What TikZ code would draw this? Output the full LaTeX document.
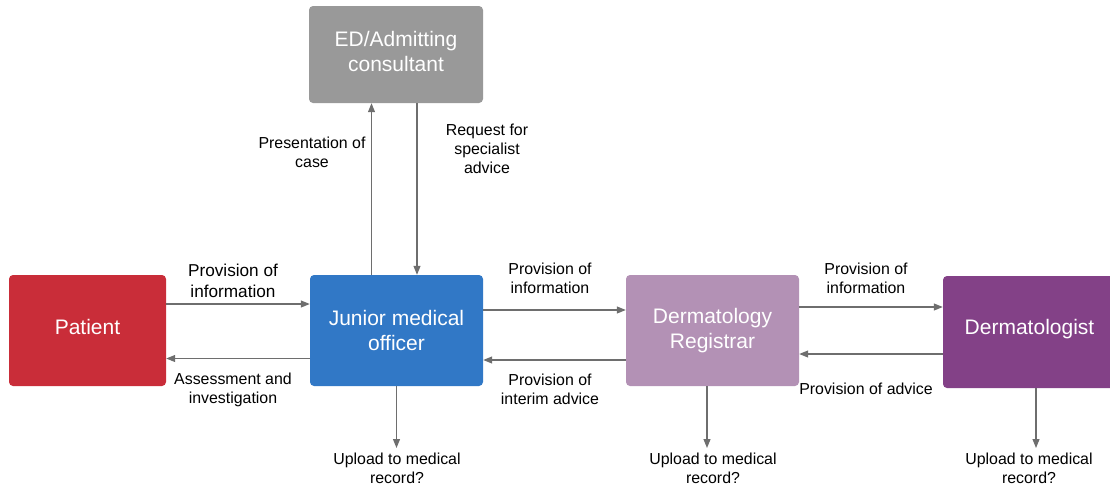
\documentclass[tikz,border=0pt]{standalone}
\usepackage{fontspec}
\setmainfont{Liberation Sans}
\usetikzlibrary{arrows.meta}
\definecolor{edgray}{HTML}{999999}
\definecolor{pred}{HTML}{C92D39}
\definecolor{jblue}{HTML}{3178C6}
\definecolor{rlilac}{HTML}{B391B5}
\definecolor{dpurple}{HTML}{834187}
\definecolor{arrgray}{HTML}{6E6E6E}
\begin{document}
\begin{tikzpicture}[x=1pt,y=-1pt,
  box/.style={draw=none, rounded corners=4pt, text=white, align=center, inner sep=0pt,
    font=\fontsize{21}{25.5}\selectfont},
  arr/.style={draw=arrgray, line width=1.1pt, -{Triangle[length=9pt,width=7pt]}},
  lab/.style={align=center, inner sep=0pt, font=\fontsize{15.9}{19}\selectfont, text=black},
  biglab/.style={align=center, inner sep=0pt, font=\fontsize{17.2}{21}\selectfont, text=black}]
\useasboundingbox (0,0) rectangle (1110,488);
\clip (0,0) rectangle (1110,488);
% boxes
\node[box, fill=edgray, minimum width=174pt, minimum height=97pt, text depth=6pt] (ed) at (396,54.5) {ED/Admitting\\consultant};
\node[box, fill=pred, minimum width=157pt, minimum height=111pt, text depth=7pt] (pat) at (87.5,330.5) {Patient};
\node[box, fill=jblue, minimum width=173pt, minimum height=111pt] (jmo) at (396.5,330.5) {Junior medical\\officer};
\node[box, fill=rlilac, minimum width=173pt, minimum height=111pt] (reg) at (712.5,330.5) {Dermatology\\Registrar};
\node[box, fill=dpurple, minimum width=173pt, minimum height=112pt, text depth=10.5pt] (derm) at (1029.5,332) {Dermatologist};
% labels
\node[biglab] (l1) at (233,281) {Provision of\\information};
\node[lab] (l2) at (233,389.5) {Assessment and\\investigation};
\node[lab] (l3) at (312,152.5) {Presentation of\\case};
\node[lab] (l4) at (487,149) {Request for\\specialist\\advice};
\node[lab] (l5) at (550,278.5) {Provision of\\information};
\node[lab] (l6) at (550,389.5) {Provision of\\interim advice};
\node[lab] (l7) at (866,278.5) {Provision of\\information};
\node[lab] (l8) at (866,389) {Provision of advice};
\node[lab] (u1) at (397,468.5) {Upload to medical\\record?};
\node[lab] (u2) at (713,468.5) {Upload to medical\\record?};
\node[lab] (u3) at (1029,468.5) {Upload to medical\\record?};
\coordinate (e1) at (396.5,448);
\coordinate (e2) at (707,448);
\coordinate (e3) at (1036,448);
% connectors
\draw[arr] ([yshift=26.5pt]pat.east) -- ([yshift=26.5pt]jmo.west);
\draw[arr] ([yshift=-28pt]jmo.west) -- ([yshift=-28pt]pat.east);
\draw[arr] ([xshift=-25pt]jmo.north) -- ([xshift=-24.5pt]ed.south);
\draw[arr] ([xshift=21pt]ed.south) -- ([xshift=20.5pt]jmo.north);
\draw[arr] ([yshift=20.5pt]jmo.east) -- ([yshift=20.5pt]reg.west);
\draw[arr] ([yshift=-29.5pt]reg.west) -- ([yshift=-29.5pt]jmo.east);
\draw[arr] ([yshift=23.5pt]reg.east) -- ([yshift=25pt]derm.west);
\draw[arr] ([yshift=-22pt]derm.west) -- ([yshift=-23.5pt]reg.east);
\draw[arr] (jmo.south) -- (e1);
\draw[arr] ([xshift=-5.5pt]reg.south) -- (e2);
\draw[arr] ([xshift=6.5pt]derm.south) -- (e3);
\end{tikzpicture}
\end{document}
